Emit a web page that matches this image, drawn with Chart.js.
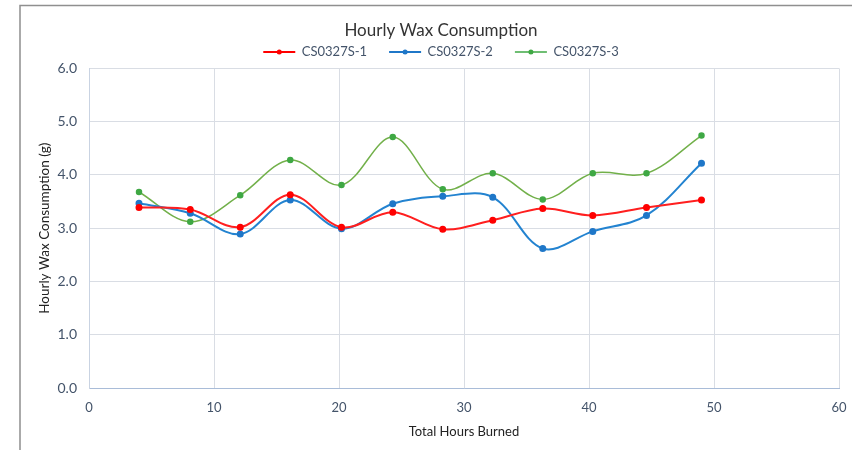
<!DOCTYPE html>
<html>
<head>
<meta charset="utf-8">
<script src="https://cdn.jsdelivr.net/npm/chart.js@4/dist/chart.umd.min.js"></script>
<style>
  html, body { margin: 0; padding: 0; background: #fff; }
  #wrap { width: 852px; height: 450px; }
</style>
</head>
<body>
<div id="wrap"><canvas id="wax" width="852" height="450"></canvas></div>
<script>
const hours = [4.0, 8.1, 12.1, 16.1, 20.2, 24.3, 28.3, 32.3, 36.3, 40.3, 44.6, 49.0]
const sample1 = [3.39, 3.35, 3.02, 3.63, 3.02, 3.30, 2.98, 3.15, 3.37, 3.24, 3.39, 3.53]
const sample2 = [3.47, 3.28, 2.89, 3.53, 2.99, 3.46, 3.60, 3.58, 2.62, 2.94, 3.24, 4.22]
const sample3 = [3.68, 3.12, 3.62, 4.28, 3.81, 4.71, 3.73, 4.03, 3.54, 4.03, 4.03, 4.74]
const seriesNames = ['CS0327S-1', 'CS0327S-2', 'CS0327S-3']

const fontName = 'Lato, "Open Sans", sans-serif'
const tickColor = '#44546a'

function pts(ys) {
  return hours.map((h, i) => ({ x: h, y: ys[i] }))
}

function series(name, ys, line, dot, width) {
  return {
    label: name,
    data: pts(ys),
    borderColor: line,
    backgroundColor: dot,
    pointBackgroundColor: dot,
    pointBorderColor: dot,
    pointRadius: 2.5,
    borderWidth: width,
    tension: 0.35,
    fill: false,
  }
}

const waxData = {
  datasets: [
    series(seriesNames[0], sample1, '#ff1f1f', '#ff0000', 2),
    series(seriesNames[1], sample2, '#2383d0', '#1f77c8', 2),
    series(seriesNames[2], sample3, '#72b04a', '#3fa844', 1.5),
  ],
}

// frame round the chart, like the spreadsheet's chart border
const framePlugin = {
  id: 'frame',
  beforeDraw(chart) {
    const ctx = chart.ctx
    ctx.save()
    ctx.fillStyle = '#fff'
    ctx.fillRect(0, 0, chart.width, chart.height)
    ctx.strokeStyle = '#8f8f8f'
    ctx.lineWidth = 1.5
    ctx.strokeRect(20, 5.5, 900, 500)
    ctx.restore()
  },
}

// small dot in the middle of each legend line
const legendDots = {
  id: 'legendDots',
  afterDraw(chart) {
    const lg = chart.legend
    if (!lg || !lg.legendHitBoxes) return
    const ctx = chart.ctx
    const bw = lg.options.labels.boxWidth
    lg.legendHitBoxes.forEach((box, i) => {
      const ds = chart.data.datasets[i]
      ctx.save()
      ctx.fillStyle = ds.pointBackgroundColor
      ctx.beginPath()
      ctx.arc(box.left + bw / 2, box.top + box.height / 2, 2.5, 0, Math.PI * 2)
      ctx.fill()
      ctx.restore()
    })
  },
}

const configWax = {
  type: 'line',
  data: waxData,
  options: {
    responsive: false,
    animation: false,
    layout: { padding: { left: 36, right: 6, top: 0, bottom: 0 } },
    plugins: {
      title: {
        display: true,
        text: 'Hourly Wax Consumption',
        color: '#333',
        font: { family: fontName, size: 17, weight: 'normal' },
        padding: { top: 20, bottom: -17 },
      },
      legend: {
        labels: {
          usePointStyle: true,
          pointStyle: 'line',
          pointStyleWidth: 32,
          boxWidth: 32,
          color: tickColor,
          font: { family: fontName, size: 13 },
          padding: 22,
        },
      },
      tooltip: { enabled: false },
    },
    scales: {
      x: {
        type: 'linear',
        min: 0,
        max: 60,
        ticks: { stepSize: 10, color: tickColor, padding: 12, font: { family: fontName, size: 13 } },
        grid: { color: '#d9dde4', tickLength: 0 },
        border: { color: '#a9bcd8' },
        title: {
          display: true,
          text: 'Total Hours Burned',
          color: '#222',
          font: { family: fontName, size: 13 },
          padding: { top: 0, bottom: 10 },
        },
        afterFit(scale) {
          scale.height = 62
          scale.paddingRight = 13
        },
      },
      y: {
        min: 0,
        max: 6,
        ticks: {
          stepSize: 1,
          color: tickColor,
          padding: 12,
          font: { family: fontName, size: 14 },
          callback: (v) => v.toFixed(1),
        },
        grid: { color: '#d9dde4', tickLength: 0 },
        border: { color: '#c9d3e2' },
        title: {
          display: true,
          text: 'Hourly Wax Consumption (g)',
          color: '#222',
          font: { family: fontName, size: 13.5 },
          padding: { top: 1, bottom: 0 },
        },
        afterFit(scale) { scale.width = 53 },
      },
    },
  },
  plugins: [framePlugin, legendDots],
}

const waxChart = new Chart(document.getElementById('wax'), configWax)
</script>
</body>
</html>
